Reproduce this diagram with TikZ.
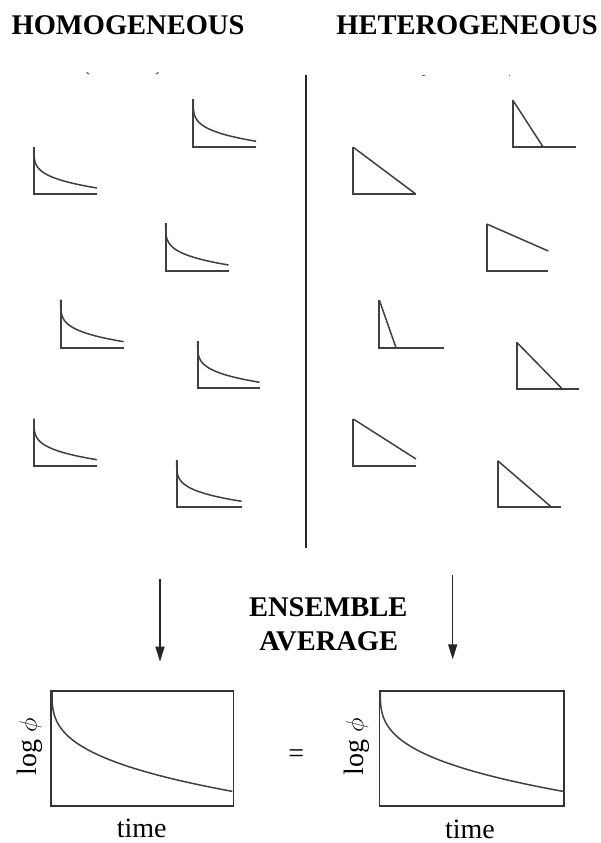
\documentclass[tikz,border=0pt]{standalone}
\usepackage{fontspec}
\setmainfont{Liberation Serif}
\usetikzlibrary{arrows.meta}
\tikzset{
  axisline/.style={line width=1.9pt, draw=black!75, line join=miter},
  curveline/.style={line width=1.5pt, draw=black!75},
  frameline/.style={line width=1.6pt, draw=black!80},
  divider/.style={line width=1.4pt, draw=black!85},
  speck/.style={line width=1.2pt, draw=black!60},
  downarrow/.style={line width=1.4pt, draw=black!85, -{Triangle[length=15pt,width=9pt]}},
  titletext/.style={font=\bfseries\fontsize{28.5}{33}\selectfont, inner sep=0pt, anchor=base},
  labeltext/.style={font=\fontsize{28}{32}\selectfont, inner sep=0pt},
}
\newcommand\homplot[4]{%
  \draw[axisline] (#1,#2-#4) -- (#1,#2) -- (#1+#3,#2);
  \draw[curveline] plot[domain=0:1,samples=60,smooth] ({#1+#3*\x^4},{#2-#4+(#4-6)*\x});
}
\newcommand\hetplot[6]{%
  \draw[axisline] (#1,#3) -- (#1,#2) -- (#6,#2);
  \draw[curveline] (#1,#3) -- (#4,#5);
}
\begin{document}
\begin{tikzpicture}[x=1pt,y=-1pt]
\useasboundingbox (0,0) rectangle (600,843);
\fill[white] (0,0) rectangle (600,843);

% titles
\node[titletext] (homt) at (128,35) {HOMOGENEOUS};
\node[titletext] (hett) at (467,35) {HETEROGENEOUS};

% small specks
\draw[speck] (86.5,72.5) -- (89,74);
\draw[speck] (156,74) -- (158.5,72.5);
\draw[speck] (421.5,75.5) -- (425,75.5);
\draw[speck] (508.5,75.5) -- (510,75.5);

% divider
\coordinate (divtop) at (306,75);
\coordinate (divbot) at (306,548);
\draw[divider] (divtop) -- (divbot);

% homogeneous small plots
\homplot{193.3}{147.3}{63}{48}
\homplot{34}{194}{63}{47}
\homplot{165.7}{271}{63}{48}
\homplot{60.7}{347.7}{63}{48}
\homplot{197.7}{388.3}{62}{47}
\homplot{34}{465.7}{63}{47}
\homplot{176.7}{507.3}{65}{47}

% heterogeneous small plots
\hetplot{512.7}{147.3}{100}{543.3}{147.3}{575.7}
\hetplot{353.3}{194}{147.3}{415.7}{194}{415.7}
\hetplot{486.7}{271}{224}{548.3}{251}{548.3}
\hetplot{379.3}{347.7}{300}{396}{347.7}{444}
\hetplot{516.7}{389.3}{342.3}{562.7}{389.3}{579.3}
\hetplot{353.3}{465.7}{419}{416}{459}{416}
\hetplot{497.7}{507.3}{460.7}{551.7}{507.3}{560.7}

% arrows
\coordinate (la1) at (160,579.3);
\coordinate (la2) at (160,661.7);
\coordinate (ra1) at (452.7,575);
\coordinate (ra2) at (452.7,659.3);
\draw[downarrow] (la1) -- (la2);
\draw[downarrow] (ra1) -- (ra2);

% ensemble average
\node[titletext] (ens) at (328.3,616) {ENSEMBLE};
\node[titletext] (avg) at (328.7,650.7) {AVERAGE};

% big plots
\draw[frameline] (51,690.7) rectangle (233.3,805.7);
\draw[curveline] plot[domain=0:1,samples=120,smooth] ({52+181*\x^3},{691.5+100*\x});
\draw[frameline] (379.3,690.7) rectangle (564,805.7);
\draw[curveline] plot[domain=0:1,samples=120,smooth] ({380.3+183.5*\x^3},{691.5+100*\x});

\node[labeltext, rotate=90] (lpl) at (30,747) {log $\phi$};
\node[labeltext, rotate=90] (lpr) at (356.7,747) {log $\phi$};
\node[labeltext, anchor=base] (tl) at (141.7,837.5) {time};
\node[labeltext, anchor=base] (tr) at (470,838) {time};
\node[labeltext] (eq) at (296.3,755.7) {=};
\end{tikzpicture}
\end{document}
